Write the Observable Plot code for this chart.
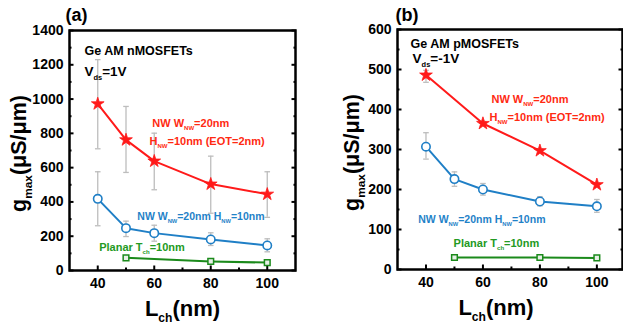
<!DOCTYPE html>
<html><head><meta charset="utf-8">
<script src="https://cdn.jsdelivr.net/npm/d3@7"></script>
<script src="https://cdn.jsdelivr.net/npm/@observablehq/plot@0.6"></script>
<style>
body{margin:0;background:#fff;}
#wrap{position:relative;width:623px;height:324px;overflow:hidden;}
#wrap svg{position:absolute;top:0;overflow:visible;}
</style></head><body><div id="wrap"></div>
<script>
// ---------- data ----------
const lengthsNW = [40, 50, 60, 80, 100];
const lengthsPlanar = [50, 80, 100];
const lengthsPRed = [40, 60, 80, 100];

// panel (a) nMOSFETs
const aRed = [972, 762, 638, 504, 445];
const aRedLo = [710, 572, 471, 334, 310];
const aRedHi = [1230, 957, 801, 667, 576];
const aBlue = [418, 247, 218, 181, 146];
const aBlueLo = [261, 198, 171, 146, 109];
const aBlueHi = [576, 288, 264, 220, 185];
const aGreen = [74, 53, 46];

// panel (b) pMOSFETs
const bRed = [486, 365, 297, 212];
const bRedLo = [468, 360, 292, 207];
const bRedHi = [498, 370, 302, 217];
const bBlue = [307, 226, 200, 170, 158];
const bBlueLo = [276, 208, 186, 159, 143];
const bBlueHi = [342, 244, 215, 182, 175];
const bGreen = [30, 30, 29];

// ticks
const xMajor = [40, 60, 80, 100];
const xMinor = [50, 70, 90];
const yMajorA = [0, 200, 400, 600, 800, 1000, 1200, 1400];
const yMinorA = [100, 300, 500, 700, 900, 1100, 1300];
const yMajorB = [0, 100, 200, 300, 400, 500, 600];
const yMinorB = [50, 150, 250, 350, 450, 550];

// texts
const panelLetters = ["(a)", "(b)"];
const devTitles = ["Ge AM nMOSFETs", "Ge AM pMOSFETs"];
const vdsTexts = ["V_{ds}=1V", "V_{ds}=-1V"];
const redLabel = ["NW W_{NW}=20nm", "H_{NW}=10nm (EOT=2nm)"];
const blueLabel = "NW W_{NW}=20nm H_{NW}=10nm";
const greenLabel = "Planar T_{ch}=10nm";
const yLabel = "g_{max}(μS/μm)";
const xLabel = "L_{ch}(nm)";

// ---------- styles ----------
const FONT = "Liberation Sans, Arial, sans-serif";
const RED = "#ff1a1a", BLUE = "#1f7fc6", GREEN = "#1b8a1b", GRAY = "#bdbdbd";
const RED_T = "#ff2a12", BLUE_T = "#1f82c8", GREEN_T = "#239a23";

const cap = {draw(ctx, size) { const w = Math.sqrt(size / Math.PI); ctx.moveTo(-w, 0); ctx.lineTo(w, 0); }};

function rows(xs, ys, lo, hi) { return xs.map((x, i) => ({x, y: ys[i], lo: lo ? lo[i] : null, hi: hi ? hi[i] : null})); }

function errMarks(data) {
  return [
    Plot.ruleX(data, {x: "x", y1: "lo", y2: "hi", stroke: GRAY, strokeWidth: 1.3}),
    Plot.dot(data, {x: "x", y: "lo", symbol: cap, r: 2.8, stroke: GRAY, strokeWidth: 1.3}),
    Plot.dot(data, {x: "x", y: "hi", symbol: cap, r: 2.8, stroke: GRAY, strokeWidth: 1.3})
  ];
}

function txt(t, x, y, opts) {
  return Plot.text([t], {x: () => x, y: () => y, text: d => d, textAnchor: "start", lineAnchor: "middle",
    fontFamily: FONT, fontWeight: "bold", ...opts});
}

function axes(yMajor, yMinor) {
  const tk = {stroke: "#000", strokeWidth: 2, fill: "none", label: null};
  const lab = {tickSize: 0, fontFamily: FONT, fontWeight: "bold", fontSize: 14, fill: "#000", label: null, tickFormat: d => String(d)};
  return [
    Plot.axisY(yMajor, {anchor: "left", ...lab, tickPadding: 6}),
    Plot.axisX(xMajor, {anchor: "bottom", ...lab, tickPadding: 8}),
    Plot.axisY(yMajor, {anchor: "left", tickSize: -4.5, ...tk}),
    Plot.axisY(yMinor, {anchor: "left", tickSize: -2.5, ...tk}),
    Plot.axisY(yMajor, {anchor: "right", tickSize: -4.5, ...tk}),
    Plot.axisY(yMinor, {anchor: "right", tickSize: -2.5, ...tk}),
    Plot.axisX(xMajor, {anchor: "bottom", tickSize: -4.5, ...tk}),
    Plot.axisX(xMinor, {anchor: "bottom", tickSize: -2.5, ...tk})
  ];
}

function panel(cfg) {
  const red = rows(cfg.redX, cfg.red, cfg.redLo, cfg.redHi);
  const blue = rows(lengthsNW, cfg.blue, cfg.blueLo, cfg.blueHi);
  const green = rows(lengthsPlanar, cfg.green);
  return Plot.plot({
    width: cfg.width, height: 324,
    marginLeft: cfg.ml, marginRight: cfg.mr, marginTop: cfg.mt, marginBottom: 324 - cfg.mt - 240,
    x: {domain: cfg.xDomain},
    y: {domain: cfg.yDomain},
    style: {background: "transparent", overflow: "visible"},
    marks: [
      ...axes(cfg.yMajor, cfg.yMinor),
      ...errMarks(red), ...errMarks(blue),
      Plot.line(red, {x: "x", y: "y", stroke: RED, strokeWidth: 2}),
      Plot.line(blue, {x: "x", y: "y", stroke: BLUE, strokeWidth: 2}),
      Plot.line(green, {x: "x", y: "y", stroke: GREEN, strokeWidth: 2}),
      Plot.dot(red, {x: "x", y: "y", symbol: "star", r: 4.0, fill: RED, stroke: RED, strokeWidth: 0.8}),
      Plot.dot(blue, {x: "x", y: "y", symbol: "circle", r: 4.2, fill: "#fff", stroke: BLUE, strokeWidth: 1.6}),
      Plot.dot(green, {x: "x", y: "y", symbol: "square", r: 3.2, fill: "#e8f0e8", stroke: GREEN, strokeWidth: 1.5}),
      Plot.frame({stroke: "#000", strokeWidth: 2.5}),
      // annotations
      txt(cfg.letter, 0, 0, {x: null, y: null, frameAnchor: "top-left", dx: cfg.letterDx, dy: cfg.letterDy, fontSize: 18, fill: "#000"}),
      txt(cfg.title, cfg.ann.title[0], cfg.ann.title[1], {fontSize: 12.5, fill: "#000"}),
      txt(cfg.vds, cfg.ann.vds[0], cfg.ann.vds[1], {fontSize: 13.5, fill: "#000"}),
      txt(redLabel[0], cfg.ann.red1[0], cfg.ann.red1[1], {fontSize: 11, fill: RED_T}),
      txt(redLabel[1], cfg.ann.red2[0], cfg.ann.red2[1], {fontSize: 11, fill: RED_T}),
      txt(blueLabel, cfg.ann.blue[0], cfg.ann.blue[1], {fontSize: 10.5, fill: BLUE_T}),
      txt(greenLabel, cfg.ann.green[0], cfg.ann.green[1], {fontSize: 11, fill: GREEN_T}),
      Plot.text([yLabel], {frameAnchor: "left", rotate: -90, dx: cfg.yLabDx, dy: 3, text: d => d, textAnchor: "middle", lineAnchor: "middle",
        fontFamily: FONT, fontWeight: "bold", fontSize: 21.5, fill: "#000"}),
      Plot.text([xLabel], {frameAnchor: "bottom", dx: cfg.xLabDx, dy: 38, text: d => d, textAnchor: "middle", lineAnchor: "middle",
        fontFamily: FONT, fontWeight: "bold", fontSize: 22, fill: "#000"})
    ]
  });
}

function subscriptify(svg) {
  svg.querySelectorAll("text").forEach(el => {
    const s = el.textContent;
    if (!s.includes("_{")) return;
    const fs = parseFloat(getComputedStyle(el).fontSize) || 12;
    const parts = s.split(/(_\{[^}]*\})/).filter(p => p.length);
    el.textContent = "";
    let shifted = false;
    for (const p of parts) {
      const ts = document.createElementNS("http://www.w3.org/2000/svg", "tspan");
      if (p.startsWith("_{")) {
        ts.textContent = p.slice(2, -1);
        ts.setAttribute("font-size", (fs * 0.55).toFixed(2));
        ts.setAttribute("dy", (fs * 0.28).toFixed(2));
        shifted = true;
      } else {
        ts.textContent = p;
        if (shifted) { ts.setAttribute("dy", (-fs * 0.28).toFixed(2)); shifted = false; }
      }
      el.appendChild(ts);
    }
  });
}

const wrap = document.getElementById("wrap");

const svgA = panel({
  width: 310, ml: 69, mr: 15, mt: 30,
  xDomain: [30, 110], yDomain: [0, 1400], yMajor: yMajorA, yMinor: yMinorA,
  redX: lengthsNW, red: aRed, redLo: aRedLo, redHi: aRedHi,
  blue: aBlue, blueLo: aBlueLo, blueHi: aBlueHi, green: aGreen,
  letter: panelLetters[0], letterDx: -4, letterDy: -15,
  title: devTitles[0], vds: vdsTexts[0],
  ann: {title: [35.3, 1279], vds: [35.3, 1157], red1: [59.3, 857], red2: [58.3, 752], blue: [54.0, 315], green: [40.5, 134]},
  yLabDx: -50, xLabDx: 0
});
svgA.style.left = "0px";
wrap.appendChild(svgA);

const svgB = panel({
  width: 313, ml: 87, mr: 1, mt: 29,
  xDomain: [30, 109], yDomain: [0, 600], yMajor: yMajorB, yMinor: yMinorB,
  redX: lengthsPRed, red: bRed, redLo: bRedLo, redHi: bRedHi,
  blue: bBlue, blueLo: bBlueLo, blueHi: bBlueHi, green: bGreen,
  letter: panelLetters[1], letterDx: -2, letterDy: -14,
  title: devTitles[1], vds: vdsTexts[1],
  ann: {title: [34.6, 564], vds: [35.3, 527], red1: [63.0, 425], red2: [62.3, 381], blue: [37.3, 125], green: [49.7, 65]},
  yLabDx: -45, xLabDx: -14
});
svgB.style.left = "310px";
wrap.appendChild(svgB);

subscriptify(svgA);
subscriptify(svgB);
</script></body></html>
